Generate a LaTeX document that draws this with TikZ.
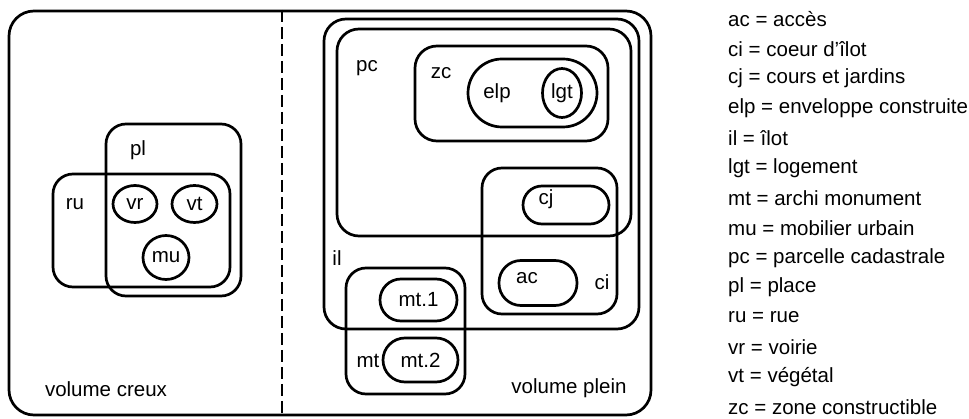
\documentclass[tikz,border=0pt]{standalone}
\usepackage{fontspec}
\setmainfont{Liberation Sans}
\usetikzlibrary{shapes.geometric}
\begin{document}
\begin{tikzpicture}[x=1pt,y=-1pt,
		every node/.style={font=\fontsize{20.5}{24}\selectfont,inner sep=0pt},
		zone/.style={draw,line width=2.7pt,rectangle,rounded corners=#1},
		zone/.default=20pt,
		blob/.style={draw,line width=2.7pt,ellipse},
		legend/.style={anchor=west}]
	\useasboundingbox (0,0) rectangle (969,419);
	% cadre general
	\node [zone=25pt,minimum width=642pt,minimum height=404pt] (cadre) at (330,213) {};
	\coordinate (haut) at (282,10);
	\coordinate (bas) at (282,416);
	\draw [line width=2.7pt,dash pattern=on 12pt off 5pt] (haut) -- (bas);
	% volume creux
	\node [zone,minimum width=135pt,minimum height=172pt] (pl) at (173.5,210) {};
	\node [zone,minimum width=177pt,minimum height=113pt] (ru) at (141.5,230.5) {};
	\node (plt) at (138,150) {pl};
	\node (rut) at (75,204) {ru};
	\node [blob,minimum width=44pt,minimum height=37pt] (vr) at (135,204) {vr};
	\node [blob,minimum width=45pt,minimum height=37pt] (vt) at (194.5,204) {vt};
	\node [blob,minimum width=46pt,minimum height=44pt] (mu) at (166,257.5) {mu};
	\node (creux) at (106,389) {volume creux};
	% volume plein
	\node [zone=22pt,minimum width=315pt,minimum height=310pt] (il) at (481.5,174) {};
	\node [zone=22pt,minimum width=294pt,minimum height=207pt] (pc) at (484,132.5) {};
	\node [zone=22pt,minimum width=193pt,minimum height=95pt] (zc) at (511.5,93.5) {};
	\node [zone=34pt,minimum width=129pt,minimum height=68pt] (elp) at (532.5,93) {};
	\node [blob,minimum width=39pt,minimum height=49pt] (lgt) at (562,93) {lgt};
	\node [zone,minimum width=135pt,minimum height=146pt] (ci) at (549.5,241) {};
	\node [zone=19pt,minimum width=86pt,minimum height=38pt] (cj) at (566,205) {};
	\node [zone=22pt,minimum width=78pt,minimum height=45pt] (ac) at (538,283) {};
	\node [zone,minimum width=119pt,minimum height=126pt] (mt) at (405.5,331) {};
	\node [zone=21pt,minimum width=77pt,minimum height=42pt] (mt1) at (418.5,300) {mt.1};
	\node [zone=22pt,minimum width=75pt,minimum height=44pt] (mt2) at (420.5,360) {mt.2};
	\node (pct) at (367,68) {pc};
	\node (zct) at (441,73) {zc};
	\node (elpt) at (497,93) {elp};
	\node (cjt) at (546,199) {cj};
	\node (act) at (527,278) {ac};
	\node (cit) at (602,282) {ci};
	\node (ilt) at (337,258) {il};
	\node (mtt) at (368,361) {mt};
	\node (plein) at (569,388) {volume plein};
	% legende
	\foreach \txt [count=\i] in {ac = accès,ci = coeur d'îlot,cj = cours et jardins,
			elp = enveloppe construite,il = îlot,lgt = logement,mt = archi monument,
			mu = mobilier urbain,pc = parcelle cadastrale,pl = place,ru = rue,
			vr = voirie,vt = végétal,zc = zone constructible}
		\node [legend] (leg\i) at (728,{19+29.85*(\i-1)}) {\txt};
\end{tikzpicture}
\end{document}
